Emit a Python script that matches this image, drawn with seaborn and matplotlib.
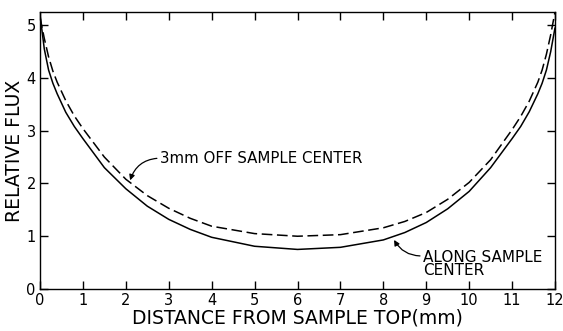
import matplotlib
matplotlib.use("Agg")
import matplotlib.pyplot as plt
import seaborn as sns
import pandas as pd

# distance from sample top (mm)
x_along = [0, 0.1, 0.2, 0.3, 0.4, 0.6, 0.8, 1, 1.5, 2, 2.5, 3, 3.5, 4, 5, 6, 7,
           8, 8.5, 9, 9.5, 10, 10.5, 11, 11.2, 11.4, 11.6, 11.7, 11.8, 11.9, 12]
flux_along = [5.2, 4.55, 4.15, 3.9, 3.7, 3.35, 3.08, 2.85, 2.3, 1.9, 1.57, 1.32,
              1.13, 0.98, 0.81, 0.75, 0.79, 0.93, 1.07, 1.26, 1.52, 1.85, 2.3,
              2.85, 3.08, 3.36, 3.7, 3.9, 4.15, 4.5, 4.95]
x_off = [0, 0.1, 0.2, 0.3, 0.4, 0.6, 0.8, 1, 1.5, 2, 2.5, 3, 3.5, 4, 5, 6, 7,
         8, 8.5, 9, 9.5, 10, 10.5, 11, 11.2, 11.4, 11.6, 11.7, 11.8, 11.9, 12]
flux_off = [5.15, 4.75, 4.4, 4.13, 3.92, 3.57, 3.28, 3.04, 2.5, 2.08, 1.77, 1.53,
            1.34, 1.19, 1.05, 1.0, 1.03, 1.16, 1.28, 1.45, 1.7, 2.02, 2.45,
            3.02, 3.27, 3.56, 3.92, 4.15, 4.45, 4.82, 5.25]
x_ticks = list(range(0, 13))
y_ticks = [0, 1, 2, 3, 4, 5]
label_off = "3mm OFF SAMPLE CENTER"
label_along = "ALONG SAMPLE\nCENTER"

df_along = pd.DataFrame({"x": x_along, "y": flux_along})
df_off = pd.DataFrame({"x": x_off, "y": flux_off})

sns.set_style("ticks")
plt.rcParams["font.family"] = ["DejaVu Sans"]
plt.rcParams["xtick.direction"] = "in"
plt.rcParams["ytick.direction"] = "in"
plt.rcParams["text.color"] = "black"
plt.rcParams["axes.labelcolor"] = "black"
plt.rcParams["xtick.color"] = "black"
plt.rcParams["ytick.color"] = "black"

fig = plt.figure(figsize=(5.63, 3.31), dpi=100)
ax = fig.add_axes([40 / 563, 1 - 289 / 331, 515 / 563, 277 / 331])

sns.lineplot(data=df_along, x="x", y="y", ax=ax, color="black", lw=1.1,
             sort=False, estimator=None)
sns.lineplot(data=df_off, x="x", y="y", ax=ax, color="black", lw=1.1,
             sort=False, estimator=None)
ax.lines[1].set_dashes([7, 3])

ax.set_xlim(0, 12)
ax.set_ylim(0, 5.25)
ax.set_xticks(x_ticks)
ax.set_yticks(y_ticks)
ax.tick_params(axis="both", which="both", top=True, right=True, length=6,
               width=1, labelsize=10.5, color="black", labelcolor="black",
               pad=3)
for s in ax.spines.values():
    s.set_linewidth(1.0)
    s.set_color("black")

ax.set_xlabel("DISTANCE FROM SAMPLE TOP(mm)", fontsize=13.5, labelpad=0,
              color="black")
ax.set_ylabel("RELATIVE FLUX", fontsize=13.5, labelpad=2, color="black")

ax.annotate(label_off, xy=(2.1, 2.06), xytext=(2.8, 2.48), fontsize=10.8,
            ha="left", va="center", color="black",
            arrowprops=dict(arrowstyle="-|>", color="black", lw=0.9,
                            shrinkA=0, shrinkB=0, relpos=(0, 0.5),
                            mutation_scale=8,
                            connectionstyle="arc3,rad=0.35"))
ax.annotate(label_along, xy=(8.25, 0.93), xytext=(8.93, 0.47), fontsize=11,
            ha="left", va="center", linespacing=0.8, color="black",
            arrowprops=dict(arrowstyle="-|>", color="black", lw=0.9,
                            shrinkA=0, shrinkB=0, relpos=(0, 0.8),
                            mutation_scale=8,
                            connectionstyle="arc3,rad=-0.3"))

fig.savefig("out.png", dpi=100)
